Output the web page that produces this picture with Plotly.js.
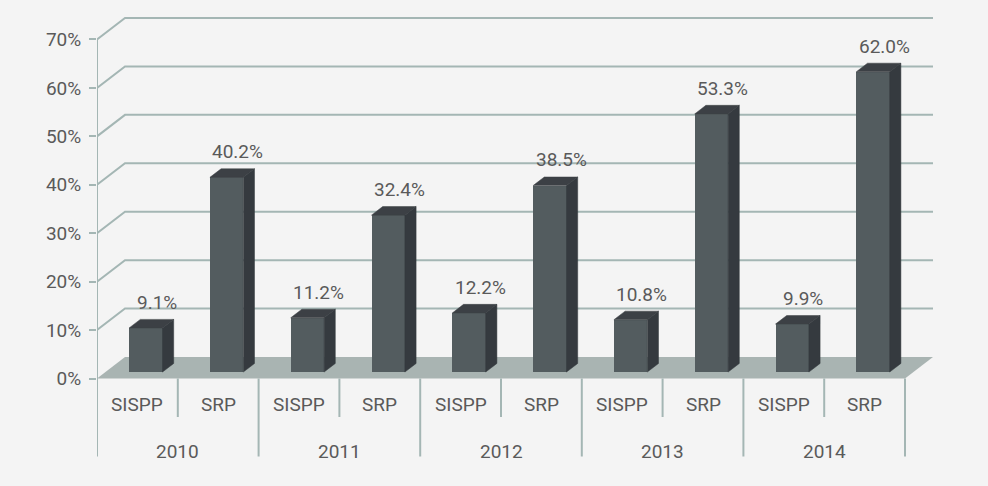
<!DOCTYPE html>
<html>
<head>
<meta charset="utf-8">
<script src="https://cdn.plot.ly/plotly-3.0.1.min.js"></script>
<style>
  html, body { margin: 0; padding: 0; background: #f4f4f4; }
  #chart { width: 988px; height: 486px; }
</style>
</head>
<body>
<div id="chart"></div>
<script>
// ---- data ----
const years = ['2010', '2011', '2012', '2013', '2014'];
const seriesNames = ['SISPP', 'SRP'];
const sisppValues = [9.1, 11.2, 12.2, 10.8, 9.9];
const srpValues = [40.2, 32.4, 38.5, 53.3, 62.0];
const yTickValues = [0, 10, 20, 30, 40, 50, 60, 70];

// ---- 3D box geometry (in axis units) ----
const W = 988, H = 486;
const M = { l: 97, r: 40, t: 10, b: 16 };
const pxPerCat = 80.8;          // horizontal size of one category slot
const pxPerPct = 4.843;         // vertical size of one percent
const zeroPx = 378.5;           // page y of the 0% front edge
const depthX = 28 / pxPerCat;   // receding depth of the floor / walls
const depthY = 21.5 / pxPerPct;
const f0 = 0.3, f1 = 0.7;       // front / back planes of the bars
const barW = 33.4 / pxPerCat;
const nCats = years.length * seriesNames.length;

const xRange = [0, (W - M.l - M.r) / pxPerCat];
const yRange = [-(H - M.b - zeroPx) / pxPerPct, (zeroPx - M.t) / pxPerPct];
const pxToY = p => -(p - zeroPx) / pxPerPct;

const lineCol = '#a4b6b4';
const textCol = '#5a5a5a';
const frontCol = '#535c5f', topCol = '#3c4045', sideCol = '#353a3f';
const fontFam = 'Roboto, "Liberation Sans", Arial, sans-serif';

// flatten categories: year-major, series-minor
const cats = [];
years.forEach((yr, k) => {
  cats.push({ year: yr, name: seriesNames[0], v: sisppValues[k] });
  cats.push({ year: yr, name: seriesNames[1], v: srpValues[k] });
});

const traces = [];

// front faces: a real bar trace sitting on the bars' front plane
traces.push({
  type: 'bar',
  x: cats.map((c, i) => i + 0.5 + f0 * depthX),
  y: cats.map(c => c.v),
  base: cats.map(() => f0 * depthY),
  width: barW,
  marker: { color: frontCol, line: { width: 0 } },
  hoverinfo: 'skip',
  showlegend: false
});

// top and side faces of each bar
cats.forEach((c, i) => {
  const cx = i + 0.5 + f0 * depthX;
  const by = f0 * depthY;
  const ddx = (f1 - f0) * depthX, ddy = (f1 - f0) * depthY;
  const xl = cx - barW / 2, xr = cx + barW / 2;
  const top = by + c.v;
  traces.push({
    type: 'scatter', mode: 'lines', fill: 'toself',
    x: [xl, xr, xr + ddx, xl + ddx, xl],
    y: [top, top, top + ddy, top + ddy, top],
    fillcolor: topCol, line: { color: topCol, width: 0.5 },
    hoverinfo: 'skip', showlegend: false
  });
  traces.push({
    type: 'scatter', mode: 'lines', fill: 'toself',
    x: [xr, xr, xr + ddx, xr + ddx, xr],
    y: [by, top, top + ddy, by + ddy, by],
    fillcolor: sideCol, line: { color: sideCol, width: 0.5 },
    hoverinfo: 'skip', showlegend: false
  });
});

// ---- shapes: walls, floor, dividers ----
const shapes = [];
const xEnd = nCats;
// floor
shapes.push({
  type: 'path', xref: 'x', yref: 'y', layer: 'below',
  path: `M0,0 L${xEnd},0 L${xEnd + depthX},${depthY} L${depthX},${depthY} Z`,
  fillcolor: '#a9b4b2', line: { width: 0 }
});
// back-wall gridlines with their receding left-wall segment
yTickValues.filter(t => t > 0).forEach(t => {
  shapes.push({
    type: 'path', xref: 'x', yref: 'y', layer: 'below',
    path: `M0,${t} L${depthX},${t + depthY} L${xEnd + depthX},${t + depthY}`,
    line: { color: lineCol, width: 2 }
  });
});
// value axis line, continuing down as the first group divider
const groupBottom = pxToY(456.5);
const subBottom = pxToY(417);
shapes.push({
  type: 'line', xref: 'x', yref: 'y', layer: 'below',
  x0: 0, x1: 0, y0: yTickValues[yTickValues.length - 1], y1: groupBottom,
  line: { color: lineCol, width: 2 }
});
// category dividers
for (let i = 1; i <= nCats; i++) {
  const isGroup = i % seriesNames.length === 0;
  shapes.push({
    type: 'line', xref: 'x', yref: 'y', layer: 'below',
    x0: i, x1: i, y0: 0, y1: isGroup ? groupBottom : subBottom,
    line: { color: lineCol, width: 2 }
  });
}

// ---- annotations: value labels, category labels ----
const annotations = [];
const txtFont = { family: fontFam, size: 19, color: textCol };
cats.forEach((c, i) => {
  annotations.push({
    xref: 'x', yref: 'y', x: i + 0.5 + f1 * depthX, y: c.v + f1 * depthY,
    text: c.v.toFixed(1) + '%', showarrow: false,
    xanchor: 'center', yanchor: 'middle', yshift: 17, font: txtFont
  });
  annotations.push({
    xref: 'x', yref: 'y', x: i + 0.5, y: pxToY(404.5),
    text: c.name, showarrow: false,
    xanchor: 'center', yanchor: 'middle', font: txtFont
  });
});
years.forEach((yr, k) => {
  annotations.push({
    xref: 'x', yref: 'y', x: k * seriesNames.length + seriesNames.length / 2, y: pxToY(451),
    text: yr, showarrow: false,
    xanchor: 'center', yanchor: 'middle', font: txtFont
  });
});

const layout = {
  width: W, height: H,
  margin: M,
  paper_bgcolor: '#f4f4f4',
  plot_bgcolor: '#f4f4f4',
  showlegend: false,
  bargap: 0,
  xaxis: {
    range: xRange, visible: false, fixedrange: true
  },
  yaxis: {
    range: yRange,
    tickvals: yTickValues,
    ticktext: yTickValues.map(t => t + '%'),
    ticks: 'outside', ticklen: 7, tickwidth: 2, tickcolor: lineCol,
    ticklabelstandoff: 4,
    tickfont: txtFont,
    showgrid: false, zeroline: false, showline: false,
    fixedrange: true
  },
  shapes: shapes,
  annotations: annotations
};

Plotly.newPlot('chart', traces, layout, { displayModeBar: false, staticPlot: true });
</script>
</body>
</html>
